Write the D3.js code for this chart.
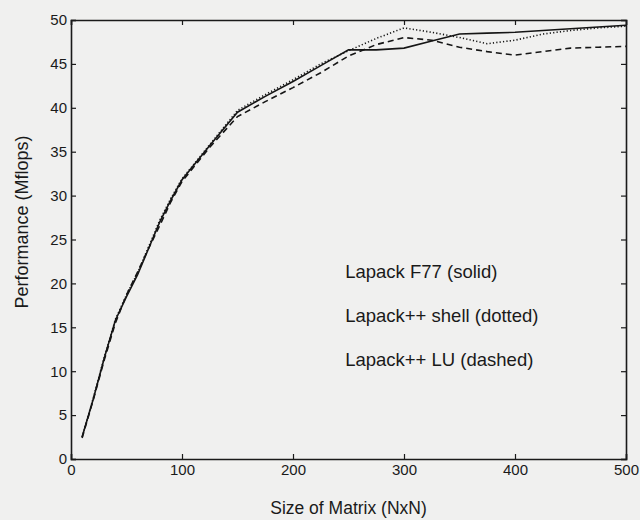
<!DOCTYPE html>
<html>
<head>
<meta charset="utf-8">
<script src="https://cdn.jsdelivr.net/npm/d3@7"></script>
<style>
  html, body { margin: 0; padding: 0; background: #f0f0ef; }
  svg { display: block; font-family: "Liberation Sans", Arial, Helvetica, sans-serif; }
</style>
</head>
<body>
<svg class="perf-chart" width="640" height="520"></svg>
<script>
// matrix sizes (N) at which performance was sampled
var matrixSizes = [10, 20, 30, 40, 50, 60, 70, 80, 90, 100, 125, 150, 175, 200, 225, 250,
  275, 300, 325, 350, 375, 400, 425, 450, 475, 500];

// Mflops for each implementation
var f77Solid = [2.5, 6.8, 11.5, 15.8, 18.5, 21.0, 24.0, 27.0, 29.5, 31.8, 35.7, 39.5, 41.3, 43.0, 44.8, 46.6,
  46.6, 46.8, 47.6, 48.4, 48.5, 48.6, 48.8, 49.0, 49.2, 49.4];
var shellDotted = [2.5, 6.9, 11.6, 15.9, 18.7, 21.2, 24.2, 27.2, 29.7, 31.9, 35.8, 39.7, 41.5, 43.2, 45.0, 46.5,
  47.9, 49.1, 48.6, 48.0, 47.3, 47.7, 48.4, 48.8, 49.1, 49.3];
var luDashed = [2.4, 6.7, 11.3, 15.5, 18.7, 21.3, 24.0, 26.6, 29.3, 31.6, 35.5, 39.0, 40.7, 42.3, 44.0, 45.9,
  47.2, 48.0, 47.7, 46.9, 46.4, 46.0, 46.4, 46.8, 46.9, 47.0];

var seriesNames = ['Lapack F77 (solid)', 'Lapack++ shell (dotted)', 'Lapack++ LU (dashed)'];
var seriesDash = [null, '1.2,2.2', '6,4'];

var xTicks = [0, 100, 200, 300, 400, 500];
var yTicks = [0, 5, 10, 15, 20, 25, 30, 35, 40, 45, 50];

main();

function main() {
  var svg = d3.select('svg.perf-chart');
  var margin = { left: 71, right: 14, top: 20, bottom: 61 };
  var width = 640 - margin.left - margin.right;
  var height = 520 - margin.top - margin.bottom;

  var x = d3.scaleLinear().domain([0, 500]).range([0, width]);
  var y = d3.scaleLinear().domain([0, 50]).range([height, 0]);

  var g = svg.append('g')
    .attr('transform', 'translate(' + margin.left + ',' + margin.top + ')');

  // matlab style box: ticks point inwards on all four sides
  g.append('g')
    .attr('class', 'axis-bottom')
    .attr('transform', 'translate(0,' + height + ')')
    .call(d3.axisBottom(x).tickValues(xTicks).tickSize(-5).tickPadding(5).tickFormat(d3.format('d')));

  g.append('g')
    .attr('class', 'axis-top')
    .call(d3.axisTop(x).tickValues(xTicks).tickSize(-5).tickFormat(''));

  g.append('g')
    .attr('class', 'axis-left')
    .call(d3.axisLeft(y).tickValues(yTicks).tickSize(-5).tickPadding(4).tickFormat(d3.format('d')));

  g.append('g')
    .attr('class', 'axis-right')
    .attr('transform', 'translate(' + width + ',0)')
    .call(d3.axisRight(y).tickValues(yTicks).tickSize(-5).tickFormat(''));

  g.selectAll('.domain')
    .attr('stroke', '#1a1a1a')
    .attr('stroke-width', 1.6);
  g.selectAll('.tick line')
    .attr('stroke', '#1a1a1a')
    .attr('stroke-width', 1.2);
  g.selectAll('.tick text')
    .attr('fill', '#1a1a1a')
    .style('font-size', '15px');

  var line = d3.line()
    .x(function(d, i) { return x(matrixSizes[i]); })
    .y(function(d) { return y(d); });

  var allSeries = [f77Solid, shellDotted, luDashed];

  g.selectAll('path.series')
    .data(allSeries)
    .enter().append('path')
    .attr('class', 'series')
    .attr('d', line)
    .attr('fill', 'none')
    .attr('stroke', '#151515')
    .attr('stroke-width', 1.6)
    .attr('stroke-dasharray', function(d, i) { return seriesDash[i]; });

  // text legend placed inside the plot, one name per line
  g.selectAll('text.legend')
    .data(seriesNames)
    .enter().append('text')
    .attr('class', 'legend')
    .attr('x', x(247))
    .attr('y', function(d, i) { return y(21.3) + i * 44; })
    .attr('dy', '0.35em')
    .attr('fill', '#1a1a1a')
    .style('font-size', '18.5px')
    .text(function(d) { return d; });

  svg.append('text')
    .attr('x', margin.left + width / 2)
    .attr('y', 514)
    .attr('text-anchor', 'middle')
    .attr('fill', '#1a1a1a')
    .style('font-size', '17.5px')
    .text('Size of Matrix (NxN)');

  svg.append('text')
    .attr('transform', 'translate(28,222) rotate(-90)')
    .attr('text-anchor', 'middle')
    .attr('fill', '#1a1a1a')
    .style('font-size', '18px')
    .text('Performance (Mflops)');
}
</script>
</body>
</html>
